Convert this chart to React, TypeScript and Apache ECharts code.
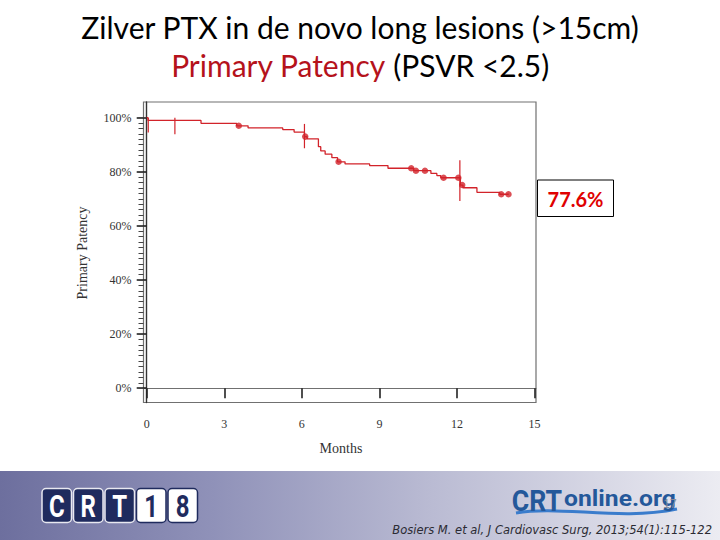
import React, { useEffect, useRef } from "react";
import * as echarts from "echarts";

// ---- texts ----
const titleLine1 = "Zilver PTX in de novo long lesions (>15cm)";
const titleLine2Red = "Primary Patency";
const titleLine2Black = " (PSVR <2.5)";
const yAxisTitle = "Primary Patency";
const xAxisTitle = "Months";
const highlightLabel = "77.6%";
const citation = "Bosiers M. et al, J Cardiovasc Surg, 2013;54(1):115-122";
const pageNumber = "17";
const logoLetters = ["C", "R", "T", "1", "8"];

// ---- axis ticks ----
const xTicks = [0, 3, 6, 9, 12, 15];
const yTicks = [0, 20, 40, 60, 80, 100];
const yMinorTicks = [
  0, 2, 4, 6, 8, 10, 12, 14, 16, 18, 20, 22, 24, 26, 28, 30, 32, 34, 36, 38, 40,
  42, 44, 46, 48, 50, 52, 54, 56, 58, 60, 62, 64, 66, 68, 70, 72, 74, 76, 78, 80,
  82, 84, 86, 88, 90, 92, 94, 96, 98, 100,
];

// ---- Kaplan-Meier step curve (month where estimate changes, new value %) ----
const stepMonths = [
  0, 0.05, 2.1, 3.48, 3.92, 5.26, 5.7, 6.1, 6.2, 6.64, 6.73, 6.9, 7.16, 7.38,
  7.67, 8.62, 9.33, 10.32, 10.99, 11.22, 11.37, 12.13, 12.23, 12.77, 13.65, 14.0,
];
const stepValues = [
  100, 99.0, 97.9, 97.0, 96.2, 95.6, 94.7, 93.0, 92.2, 89.3, 87.7, 86.5, 85.2,
  83.7, 82.9, 82.3, 81.3, 80.4, 79.4, 78.6, 77.8, 75.1, 74.1, 72.4, 71.7, 71.7,
];

// ---- censored observations (dots) ----
const censorMonths = [3.56, 6.13, 7.42, 10.23, 10.41, 10.76, 11.48, 12.05, 12.2, 13.71, 13.99];
const censorValues = [97.0, 93.0, 83.7, 81.3, 80.4, 80.4, 77.8, 77.8, 75.1, 71.7, 71.7];

// ---- vertical interval bars ----
const barMonths = [0.06, 1.09, 6.1, 12.11];
const barLow = [94.5, 93.9, 88.7, 69.2];
const barHigh = [100, 100, 97.7, 84.3];

const RED = "#d2232a";
const SERIF = "'Liberation Serif', 'DejaVu Serif', serif";
const TITLE_FONT = "30px Lato, 'Open Sans', sans-serif";

export default function App() {
  const ref = useRef<HTMLDivElement>(null);

  useEffect(() => {
    if (!ref.current) return;
    const chart = echarts.init(ref.current, undefined, { renderer: "svg" });

    const stepData = stepMonths.map((m, i) => [m, stepValues[i]]);
    const censorData = censorMonths.map((m, i) => [m, censorValues[i]]);
    const barData = barMonths.map((m, i) => [m, barLow[i], barHigh[i]]);

    const boxW = 29.5;
    const boxGap = 2;
    const logoX0 = 42;
    const logoGraphics: any[] = [];
    logoLetters.forEach((ch, i) => {
      const dark = i < 3;
      const x = logoX0 + i * (boxW + boxGap);
      logoGraphics.push({
        type: "rect",
        shape: { x, y: 488.5, width: boxW, height: 34, r: 4 },
        style: {
          fill: dark ? "#1f2b5e" : "#ffffff",
          stroke: dark ? "#e8e8f0" : "#1f2b5e",
          lineWidth: 1.5,
        },
      });
      logoGraphics.push({
        type: "text",
        x: x + boxW / 2,
        y: 506,
        scaleX: 0.75,
        style: {
          text: ch,
          fill: dark ? "#ffffff" : "#1f2b5e",
          font: "bold 32px Roboto, 'DejaVu Sans', sans-serif",
          align: "center",
          verticalAlign: "middle",
        },
      });
    });

    chart.setOption({
      animation: false,
      backgroundColor: "#ffffff",
      grid: {
        left: 143.5,
        top: 102,
        width: 392.5,
        height: 300.5,
        show: true,
        borderColor: "#707070",
        borderWidth: 1.2,
        backgroundColor: "transparent",
      },
      xAxis: {
        type: "value",
        min: -0.124,
        max: 15.054,
        splitLine: { show: false },
        axisLine: { show: true, lineStyle: { color: "#707070", width: 1.2 } },
        axisTick: {
          show: true,
          customValues: xTicks,
          length: 10,
          inside: false,
          lineStyle: { color: "#222222", width: 1.6 },
        },
        axisLabel: {
          customValues: xTicks,
          margin: 15,
          color: "#333333",
          fontFamily: SERIF,
          fontSize: 12,
        },
      },
      yAxis: [
        {
          type: "value",
          min: -5.29,
          max: 105.8,
          splitLine: { show: false },
          axisLine: { show: true, lineStyle: { color: "#333333", width: 1.4 } },
          axisTick: {
            show: true,
            customValues: yTicks,
            length: 10,
            lineStyle: { color: "#222222", width: 1.6 },
          },
          axisLabel: {
            customValues: yTicks,
            margin: 12,
            color: "#333333",
            fontFamily: SERIF,
            fontSize: 12,
            formatter: (v: number) => `${v}%`,
          },
        },
        {
          type: "value",
          position: "left",
          min: -5.29,
          max: 105.8,
          splitLine: { show: false },
          axisLine: { show: false },
          axisTick: {
            show: true,
            customValues: yMinorTicks,
            length: 5,
            lineStyle: { color: "#444444", width: 1 },
          },
          axisLabel: { show: false },
        },
      ],
      series: [
        {
          type: "line",
          step: "end",
          data: stepData,
          showSymbol: false,
          symbol: "none",
          lineStyle: { color: RED, width: 1.3 },
          z: 3,
        },
        {
          type: "scatter",
          data: censorData,
          symbol: "circle",
          symbolSize: 6.5,
          itemStyle: { color: RED },
          z: 4,
        },
        {
          type: "custom",
          data: barData,
          encode: { x: 0, y: [1, 2] },
          renderItem: (params: any, api: any) => {
            const p1 = api.coord([api.value(0), api.value(1)]);
            const p2 = api.coord([api.value(0), api.value(2)]);
            return {
              type: "line",
              shape: { x1: p1[0], y1: p1[1], x2: p2[0], y2: p2[1] },
              style: { stroke: RED, lineWidth: 1.2 },
            };
          },
          z: 3,
        },
      ],
      graphic: [
        // Title
        {
          type: "text",
          x: 360,
          y: 27,
          style: {
            text: titleLine1,
            fill: "#000000",
            font: TITLE_FONT,
            align: "center",
            verticalAlign: "middle",
          },
        },
        {
          type: "text",
          x: 360,
          y: 65,
          style: {
            text: `{r|${titleLine2Red}}{b|${titleLine2Black}}`,
            align: "center",
            verticalAlign: "middle",
            rich: {
              r: { fill: "#b5121b", font: TITLE_FONT },
              b: { fill: "#000000", font: TITLE_FONT },
            },
          },
        },
        // axis names
        {
          type: "text",
          x: 82,
          y: 253,
          rotation: Math.PI / 2,
          style: {
            text: yAxisTitle,
            fill: "#333333",
            font: `14px ${SERIF}`,
            align: "center",
            verticalAlign: "middle",
          },
        },
        {
          type: "text",
          x: 341,
          y: 448,
          style: {
            text: xAxisTitle,
            fill: "#333333",
            font: `14px ${SERIF}`,
            align: "center",
            verticalAlign: "middle",
          },
        },
        // highlight box
        {
          type: "rect",
          shape: { x: 537.5, y: 180, width: 76, height: 36.5 },
          style: { fill: "#ffffff", stroke: "#000000", lineWidth: 1 },
          z: 10,
        },
        {
          type: "text",
          x: 575.5,
          y: 198.5,
          z: 11,
          style: {
            text: highlightLabel,
            fill: "#e00000",
            font: "bold 20px Lato, 'Open Sans', sans-serif",
            align: "center",
            verticalAlign: "middle",
          },
        },
        // bottom banner
        {
          type: "rect",
          shape: { x: 0, y: 471, width: 720, height: 69 },
          style: {
            fill: new echarts.graphic.LinearGradient(0, 0, 1, 0, [
              { offset: 0, color: "#6d6f9e" },
              { offset: 0.3, color: "#9092b9" },
              { offset: 0.6, color: "#babbd3" },
              { offset: 1, color: "#ececf2" },
            ]),
          },
          z: 1,
        },
        ...logoGraphics.map((g) => ({ ...g, z: 2 })),
        // CRTonline logo
        {
          type: "bezierCurve",
          z: 2,
          shape: { x1: 516, y1: 513, cpx1: 560, cpy1: 505, cpx2: 620, cpy2: 521, x2: 677, y2: 509 },
          style: { stroke: "#3a7ccc", lineWidth: 3, fill: "none" },
        },
        {
          type: "text",
          x: 537,
          y: 501,
          z: 3,
          scaleX: 0.92,
          style: {
            text: "CRT",
            fill: "#24589a",
            font: "bold 29px Roboto, sans-serif",
            align: "center",
            verticalAlign: "middle",
          },
        },
        {
          type: "text",
          x: 620,
          y: 498,
          z: 3,
          scaleX: 1.12,
          style: {
            text: "online.org",
            fill: "#24589a",
            font: "bold 22px Roboto, sans-serif",
            align: "center",
            verticalAlign: "middle",
          },
        },
        {
          type: "text",
          x: 670,
          y: 504,
          z: 4,
          style: {
            text: pageNumber,
            fill: "#8a8a9a",
            font: "12px 'Liberation Sans', sans-serif",
            align: "center",
            verticalAlign: "middle",
          },
        },
        {
          type: "text",
          x: 712,
          y: 530,
          z: 2,
          style: {
            text: citation,
            fill: "#2b2b33",
            font: "italic 11.5px 'DejaVu Sans', sans-serif",
            align: "right",
            verticalAlign: "middle",
          },
        },
      ],
    });

    return () => chart.dispose();
  }, []);

  return (
    <div
      ref={ref}
      style={{ position: "fixed", left: 0, top: 0, width: 720, height: 540, background: "#fff" }}
    />
  );
}
